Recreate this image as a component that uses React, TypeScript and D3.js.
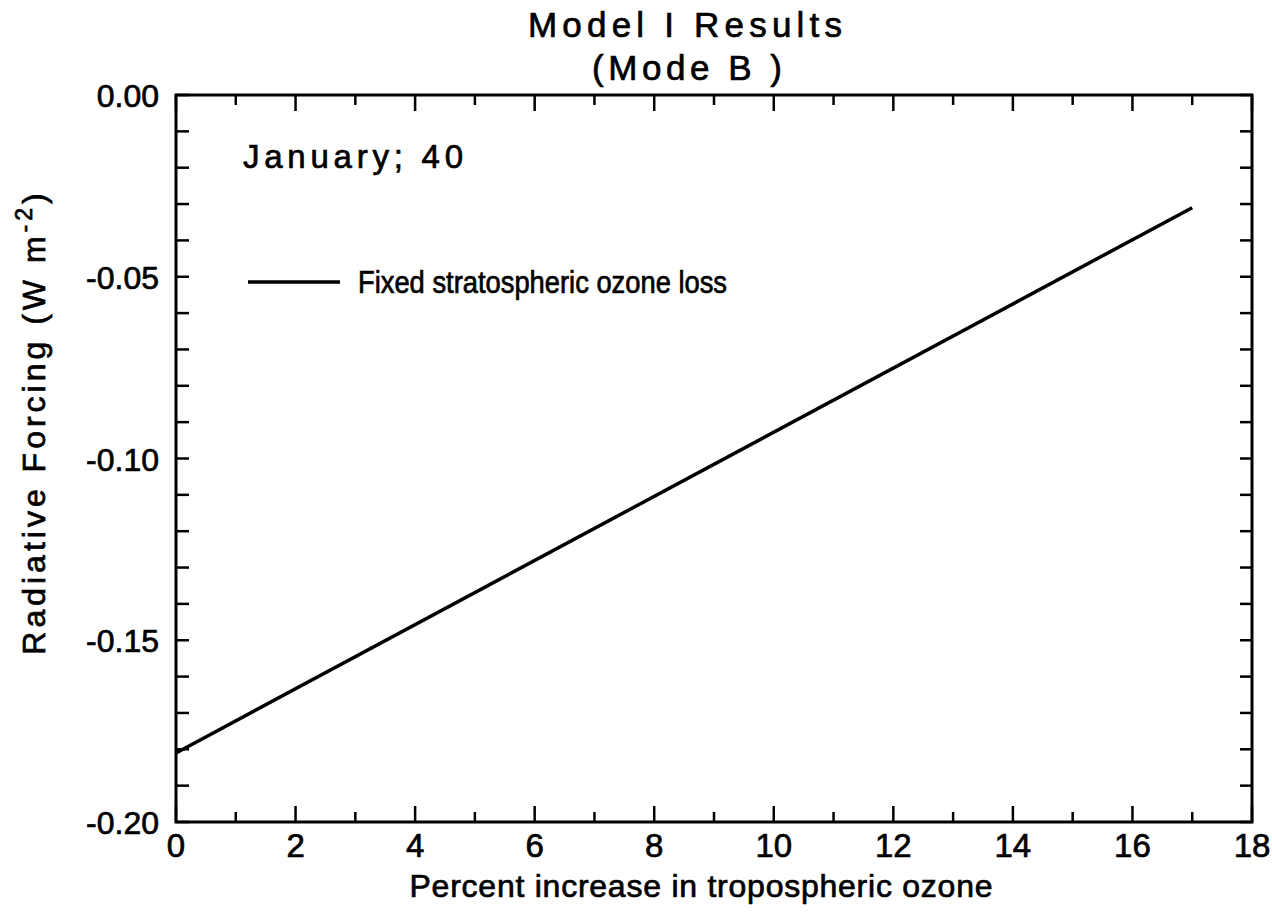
import React from "react";
import * as d3 from "d3";

const xData = [0, 17];
const yData = [-0.181, -0.031];
const xTickLabels = [0, 2, 4, 6, 8, 10, 12, 14, 16, 18];
const yTickLabels = [0, -0.05, -0.1, -0.15, -0.2];
const titleLines = ["Model I Results", "(Mode B )"];
const legendLabel = "Fixed stratospheric ozone loss";
const annotation = "January; 40";
const xTitle = "Percent increase in tropospheric ozone";

const W = 1272, H = 915;
const FONT = "'Liberation Sans', Arial, sans-serif";

export default function App() {
  const x = d3.scaleLinear().domain([0, 18]).range([176, 1252]);
  const y = d3.scaleLinear().domain([-0.2, 0]).range([822, 95]);
  const line = d3.line<number>().x((_, i) => x(xData[i])).y((d) => y(d));
  const xMinor = d3.range(0, 19, 1);
  const yMinor = d3.range(0, 21, 1).map((i) => -0.2 + i * 0.01);
  const [x0, x1] = x.range();
  const [y0, y1] = y.range();
  const ts = { stroke: "#000", strokeWidth: 0.7 };

  return (
    <svg width={W} height={H} style={{ display: "block", position: "absolute", left: 0, top: 0, background: "#fff" }}
      fontFamily={FONT}>
      <rect x={0} y={0} width={W} height={H} fill="#fff" />
      {/* Title */}
      <text x={685} y={37} textAnchor="middle" fontSize={35} textLength={314} lengthAdjust="spacing" {...ts}>{titleLines[0]}</text>
      <text x={687} y={80} textAnchor="middle" fontSize={35} textLength={190} lengthAdjust="spacing" {...ts}>{titleLines[1]}</text>
      {/* frame */}
      <rect x={x0} y={y1} width={x1 - x0} height={y0 - y1} fill="none" stroke="#000" strokeWidth={3} />
      {/* x ticks bottom & top */}
      {xMinor.map((v) => {
        const major = v % 2 === 0;
        const len = major ? 16 : 10;
        return (
          <g key={"xt" + v}>
            <line x1={x(v)} x2={x(v)} y1={y0} y2={y0 - len} stroke="#000" strokeWidth={2.5} />
            <line x1={x(v)} x2={x(v)} y1={y1} y2={y1 + len} stroke="#000" strokeWidth={2.5} />
          </g>
        );
      })}
      {/* y ticks left & right */}
      {yMinor.map((v, i) => (
        <g key={"yt" + i}>
          <line x1={x0} x2={x0 + 13} y1={y(v)} y2={y(v)} stroke="#000" strokeWidth={2.5} />
          <line x1={x1} x2={x1 - 12} y1={y(v)} y2={y(v)} stroke="#000" strokeWidth={2.5} />
        </g>
      ))}
      {/* x tick labels */}
      {xTickLabels.map((v) => (
        <text key={"xl" + v} x={x(v)} y={857} textAnchor="middle" fontSize={33} {...ts}>{v}</text>
      ))}
      {/* y tick labels */}
      {yTickLabels.map((v) => (
        <text key={"yl" + v} x={159} y={y(v) + 12} textAnchor="end" fontSize={32} {...ts}>
          {v === 0 ? "0.00" : "-" + d3.format(".2f")(Math.abs(v))}
        </text>
      ))}
      {/* axis titles */}
      <text x={701} y={897} textAnchor="middle" fontSize={32} textLength={583} lengthAdjust="spacing" {...ts}>{xTitle}</text>
      <text transform="translate(45,422) rotate(-90)" textAnchor="middle" fontSize={32} letterSpacing={4} {...ts}>
        Radiative  Forcing  (W  m<tspan dy={-13} fontSize={23}>-2</tspan><tspan dy={13}>)</tspan>
      </text>
      {/* data line */}
      <path d={line(yData) || ""} fill="none" stroke="#000" strokeWidth={3.5} />
      {/* annotation */}
      <text x={243} y={168} fontSize={33} textLength={220} lengthAdjust="spacing" {...ts}>{annotation}</text>
      {/* legend */}
      <line x1={248} x2={340} y1={282} y2={282} stroke="#000" strokeWidth={3.5} />
      <text x={358} y={293} fontSize={31} textLength={369} lengthAdjust="spacingAndGlyphs" {...ts}>{legendLabel}</text>
    </svg>
  );
}
